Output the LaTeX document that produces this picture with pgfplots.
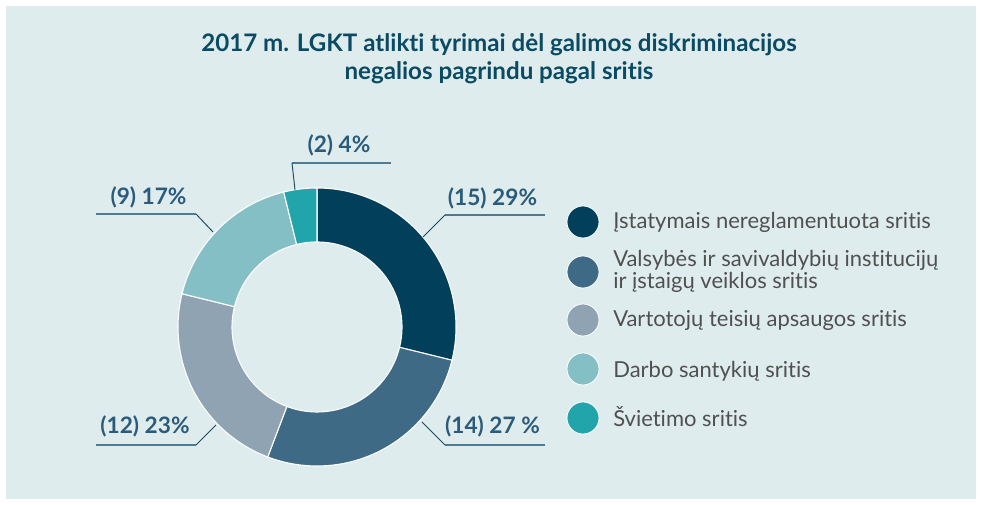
\documentclass[border=0pt]{standalone}
\usepackage{fontspec}
\setmainfont{Lato}[Ligatures={NoCommon,NoRare,NoContextual}]
\usepackage{pgfplots}
\pgfplotsset{compat=1.18}
\usepgfplotslibrary{fillbetween}
\tikzset{fill between/on layer=main}
\definecolor{bg}{HTML}{DFECEE}
\definecolor{cA}{HTML}{013F5A}
\definecolor{cB}{HTML}{3E6A85}
\definecolor{cC}{HTML}{8FA3B3}
\definecolor{cD}{HTML}{85BFC6}
\definecolor{cE}{HTML}{22A5AA}
\definecolor{ttl}{HTML}{0B4A63}
\definecolor{lbl}{HTML}{2B5B7A}
\definecolor{uline}{HTML}{4F7A93}
\definecolor{lead}{HTML}{1A4A60}
\definecolor{leg}{HTML}{505050}
% values
\def\vA{15}\def\vB{14}\def\vC{12}\def\vD{9}\def\vE{2}
\pgfmathsetmacro\tot{\vA+\vB+\vC+\vD+\vE}
\pgfmathsetmacro\aA{90}
\pgfmathsetmacro\aB{\aA-\vA/\tot*360}
\pgfmathsetmacro\aC{\aB-\vB/\tot*360}
\pgfmathsetmacro\aD{\aC-\vC/\tot*360}
\pgfmathsetmacro\aE{\aD-\vD/\tot*360}
\pgfmathsetmacro\aF{\aE-\vE/\tot*360}
\def\cx{317}\def\cy{327}\def\ro{139}\def\ri{85}
\begin{document}
\begin{tikzpicture}
\fill[white] (0,0) rectangle (736.5pt,378.75pt);
\fill[bg] (4.5pt,4.5pt) rectangle (732pt,374.25pt);
\begin{axis}[
  scale only axis, width=736.5pt, height=378.75pt,
  xmin=0, xmax=982, ymin=0, ymax=505, y dir=reverse,
  hide axis, clip=false,
  every axis plot/.append style={samples=80},
]
% sectors
\addplot[name path=oA, draw=none, domain=\aB:\aA, variable=\t] ({\cx+\ro*cos(\t)},{\cy-\ro*sin(\t)});
\addplot[name path=iA, draw=none, domain=\aB:\aA, variable=\t] ({\cx+\ri*cos(\t)},{\cy-\ri*sin(\t)});
\addplot[name path=oB, draw=none, domain=\aC:\aB, variable=\t] ({\cx+\ro*cos(\t)},{\cy-\ro*sin(\t)});
\addplot[name path=iB, draw=none, domain=\aC:\aB, variable=\t] ({\cx+\ri*cos(\t)},{\cy-\ri*sin(\t)});
\addplot[name path=oC, draw=none, domain=\aD:\aC, variable=\t] ({\cx+\ro*cos(\t)},{\cy-\ro*sin(\t)});
\addplot[name path=iC, draw=none, domain=\aD:\aC, variable=\t] ({\cx+\ri*cos(\t)},{\cy-\ri*sin(\t)});
\addplot[name path=oD, draw=none, domain=\aE:\aD, variable=\t] ({\cx+\ro*cos(\t)},{\cy-\ro*sin(\t)});
\addplot[name path=iD, draw=none, domain=\aE:\aD, variable=\t] ({\cx+\ri*cos(\t)},{\cy-\ri*sin(\t)});
\addplot[name path=oE, draw=none, domain=\aF:\aE, variable=\t] ({\cx+\ro*cos(\t)},{\cy-\ro*sin(\t)});
\addplot[name path=iE, draw=none, domain=\aF:\aE, variable=\t] ({\cx+\ri*cos(\t)},{\cy-\ri*sin(\t)});
\addplot[fill=cA, draw=white, line width=0.8pt] fill between[of=oA and iA];
\addplot[fill=cB, draw=white, line width=0.8pt] fill between[of=oB and iB];
\addplot[fill=cC, draw=white, line width=0.8pt] fill between[of=oC and iC];
\addplot[fill=cD, draw=white, line width=0.8pt] fill between[of=oD and iD];
\addplot[fill=cE, draw=white, line width=0.8pt] fill between[of=oE and iE];
% leader lines
\addplot[uline, line width=1.2pt] coordinates {(391,163) (292,163)};
\addplot[lead, line width=0.7pt] coordinates {(292,163) (295,190)};
\addplot[uline, line width=1.2pt] coordinates {(545,215) (445,215)};
\addplot[lead, line width=0.7pt] coordinates {(445,215) (423,237)};
\addplot[uline, line width=1.2pt] coordinates {(96,214) (196,214)};
\addplot[lead, line width=0.7pt] coordinates {(196,214) (213,232)};
\addplot[uline, line width=1.2pt] coordinates {(96,445) (196,445)};
\addplot[lead, line width=0.7pt] coordinates {(196,445) (216,425)};
\addplot[uline, line width=1.2pt] coordinates {(545,445) (445,445)};
\addplot[lead, line width=0.7pt] coordinates {(445,445) (422,422)};
% labels
\tikzset{lab/.style={anchor=base, text=lbl, font=\fontsize{17}{20}\selectfont\bfseries, inner sep=0pt}}
\node[lab] at (axis cs:339,153) {(2) 4\%};
\node[lab] at (axis cs:492.5,205.5) {(15) 29\%};
\node[lab] at (axis cs:148.5,205) {(9) 17\%};
\node[lab] at (axis cs:145,434) {(12) 23\%};
\node[lab] at (axis cs:492.5,434) {(14) 27 \%};
% title
\node[anchor=base, text=ttl, font=\fontsize{18.1}{22}\selectfont\bfseries, inner sep=0pt] at (axis cs:499,52) {2017 m. LGKT atlikti tyrimai dėl galimos diskriminacijos};
\node[anchor=base, text=ttl, font=\fontsize{18.1}{22}\selectfont\bfseries, inner sep=0pt] at (axis cs:499,80) {negalios pagrindu pagal sritis};
% legend markers
\addplot[only marks, mark=*, mark size=12pt, mark options={fill=cA, draw=white, line width=0.6pt}] coordinates {(583,222)};
\addplot[only marks, mark=*, mark size=12pt, mark options={fill=cB, draw=white, line width=0.6pt}] coordinates {(583,272)};
\addplot[only marks, mark=*, mark size=12pt, mark options={fill=cC, draw=white, line width=0.6pt}] coordinates {(583,320)};
\addplot[only marks, mark=*, mark size=12pt, mark options={fill=cD, draw=white, line width=0.6pt}] coordinates {(583,369)};
\addplot[only marks, mark=*, mark size=12pt, mark options={fill=cE, draw=white, line width=0.6pt}] coordinates {(583,418)};
\tikzset{lg/.style={anchor=base west, text=leg, font=\fontsize{16.5}{20}\selectfont, inner sep=0pt}}
\node[lg] at (axis cs:613,229) {Įstatymais nereglamentuota sritis};
\node[lg] at (axis cs:613,267) {Valsybės ir savivaldybių institucijų};
\node[lg] at (axis cs:613,289) {ir įstaigų veiklos sritis};
\node[lg] at (axis cs:613,327) {Vartotojų teisių apsaugos sritis};
\node[lg] at (axis cs:613,378) {Darbo santykių sritis};
\node[lg] at (axis cs:613,427) {Švietimo sritis};
\end{axis}
\end{tikzpicture}
\end{document}
